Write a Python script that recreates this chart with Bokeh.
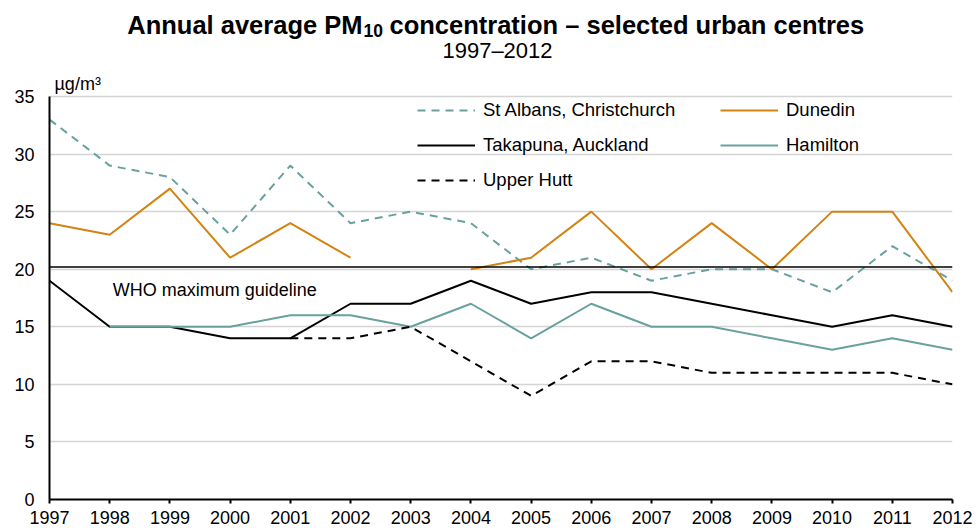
import numpy as np
from bokeh.plotting import figure
from bokeh.models import Range1d, FixedTicker, Label, Legend, LegendItem, Span
from bokeh.embed import file_html
from bokeh.resources import INLINE

nan = np.nan
years = list(range(1997, 2013))
st_albans = [33, 29, 28, 23, 29, 24, 25, 24, 20, 21, 19, 20, 20, 18, 22, 19]
dunedin = [24, 23, 27, 21, 24, 21, nan, 20, 21, 25, 20, 24, 20, 25, 25, 18]
takapuna = [19, 15, 15, 14, 14, 17, 17, 19, 17, 18, 18, 17, 16, 15, 16, 15]
hamilton = [nan, 15, 15, 15, 16, 16, 15, 17, 14, 17, 15, 15, 14, 13, 14, 13]
upper_hutt = [nan, nan, nan, nan, 14, 14, 15, 12, 9, 12, 12, 11, 11, 11, 11, 10]
who_guideline = 20.2
y_ticks = [0, 5, 10, 15, 20, 25, 30, 35]
y_max = 35

TEAL = "#68a19e"
ORANGE = "#d38312"
FONT = "Liberation Sans"

W, H = 976, 531
LEFT, RIGHT, BOTTOM = 49, 24, 32
frame_h = H - BOTTOM           # frame spans from canvas top to the x axis
data_h = 403                   # pixels used by 0..35
y_top = y_max * frame_h / data_h   # head-room above 35 for the titles

p = figure(width=W, height=H, output_backend="svg", toolbar_location=None,
           x_range=Range1d(1997, 2012), y_range=Range1d(0, y_top),
           min_border_left=LEFT, min_border_right=RIGHT, min_border_top=0,
           min_border_bottom=BOTTOM)
p.outline_line_color = None
p.background_fill_color = "white"
p.border_fill_color = "white"
p.xgrid.grid_line_color = None
p.ygrid.grid_line_color = "#d4d4d4"
p.ygrid.grid_line_width = 1.5
p.ygrid.ticker = FixedTicker(ticks=y_ticks[1:])

p.xaxis.ticker = FixedTicker(ticks=years)
p.yaxis.ticker = FixedTicker(ticks=y_ticks)
p.yaxis.bounds = (0, y_max)
for ax in (p.xaxis, p.yaxis):
    ax.axis_line_color = "black"
    ax.axis_line_width = 2
    ax.major_label_text_font = FONT
    ax.major_label_text_font_size = "18px"
    ax.major_label_text_color = "black"
    ax.minor_tick_line_color = None
p.xaxis.major_tick_line_color = "black"
p.xaxis.major_tick_line_width = 2
p.xaxis.major_tick_out = 4
p.xaxis.major_tick_in = 0
p.xaxis.major_label_standoff = 7
p.yaxis.major_tick_line_color = None
p.yaxis.major_tick_out = 0
p.yaxis.major_tick_in = 0
p.yaxis.major_label_standoff = 15

# WHO guideline
p.add_layout(Span(location=who_guideline, dimension="width", line_color="black", line_width=1.5))

r_sa = p.line(years, st_albans, line_color=TEAL, line_width=2, line_dash="8 6")
r_du = p.line(years, dunedin, line_color=ORANGE, line_width=2)
r_ta = p.line(years, takapuna, line_color="black", line_width=2)
r_ha = p.line(years, hamilton, line_color=TEAL, line_width=2)
r_uh = p.line(years, upper_hutt, line_color="black", line_width=2, line_dash="8 6")

def mk_legend(items, loc):
    return Legend(items=items, location=loc, orientation="vertical",
                  label_text_font=FONT, label_text_font_size="18.5px", label_text_color="black",
                  glyph_width=58, glyph_height=22, label_height=22, label_standoff=8,
                  spacing=13, padding=0, margin=0, border_line_color=None,
                  background_fill_alpha=0)

p.add_layout(mk_legend([LegendItem(label="St Albans, Christchurch", renderers=[r_sa]),
                        LegendItem(label="Takapuna, Auckland", renderers=[r_ta]),
                        LegendItem(label="Upper Hutt", renderers=[r_uh])], (368, 308)))
p.add_layout(mk_legend([LegendItem(label="Dunedin", renderers=[r_du]),
                        LegendItem(label="Hamilton", renderers=[r_ha])], (671, 343)))

# WHO label
p.add_layout(Label(x=1998, y=who_guideline, x_offset=3, y_offset=-23, text="WHO maximum guideline",
                   text_font=FONT, text_font_size="18px", text_color="black",
                   text_baseline="middle", text_align="left"))

# Titles (screen units relative to the frame's bottom-left)
p.add_layout(Label(x=313, y=475, x_units="screen", y_units="screen", text="Annual average PM",
                   text_font=FONT, text_font_size="25.5px", text_font_style="bold",
                   text_align="right", text_baseline="middle", text_color="black"))
p.add_layout(Label(x=314, y=469, x_units="screen", y_units="screen", text="10",
                   text_font=FONT, text_font_size="17.5px", text_font_style="bold",
                   text_align="left", text_baseline="middle", text_color="black"))
p.add_layout(Label(x=340, y=475, x_units="screen", y_units="screen",
                   text="concentration \u2013 selected urban centres",
                   text_font=FONT, text_font_size="25.5px", text_font_style="bold",
                   text_align="left", text_baseline="middle", text_color="black"))
p.add_layout(Label(x=448, y=449, x_units="screen", y_units="screen", text="1997\u20132012",
                   text_font=FONT, text_font_size="22px",
                   text_align="center", text_baseline="middle", text_color="black"))
p.add_layout(Label(x=5, y=416, x_units="screen", y_units="screen", text="\u00b5g/m\u00b3",
                   text_font=FONT, text_font_size="18px",
                   text_align="left", text_baseline="middle", text_color="black"))

open("out.html", "w").write(file_html(p, INLINE))
